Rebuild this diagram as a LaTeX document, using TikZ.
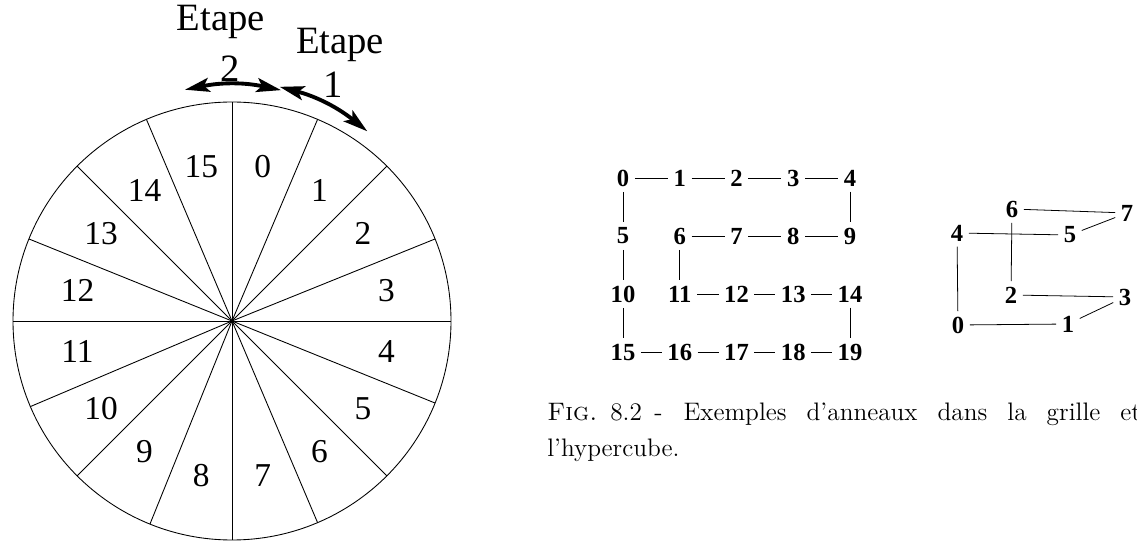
\documentclass[tikz,border=0pt]{standalone}
\usepackage{fontspec}
\newfontfamily\timesfont{Liberation Serif}
\usetikzlibrary{arrows.meta}

\begin{document}
\begin{tikzpicture}[
	roue/.style={ circle, draw, line width=0.5pt, inner sep=0pt, outer sep=0pt, minimum size=8.76cm },
	secteur/.style={ font=\timesfont\fontsize{19}{20}\selectfont, inner sep=0pt },
	etape/.style={ font=\timesfont\fontsize{22}{22}\selectfont, inner sep=0pt },
	fleche/.style={ line width=2.2pt, {Stealth[length=14pt, width=8pt, inset=3pt]}-{Stealth[length=14pt, width=8pt, inset=3pt]} },
	sommet/.style={ font=\timesfont\bfseries\fontsize{14}{14}\selectfont, inner sep=3pt },
	lien/.style={ line width=0.45pt }
]
\useasboundingbox (0,0) rectangle (22.74,10.82);

% l'anneau
\node at (4.64,4.40) (roue) [roue] {};
\foreach \k in {0,...,15}
  \draw[line width=0.5pt] (roue.center) -- (roue.{90-22.5*\k});
\foreach \k in {0,...,15}
  \node at ([shift={({78.75-22.5*\k}:3.15)}]roue.center) (s\k) [secteur] {\k};

% les etapes
\coordinate (e2a) at ([shift={(101.5:4.72)}]roue.center);
\coordinate (e2b) at ([shift={(78:4.72)}]roue.center);
\coordinate (e1a) at ([shift={(78.5:4.78)}]roue.center);
\coordinate (e1b) at ([shift={(54.5:4.66)}]roue.center);
\draw[fleche] (e2a) to[bend left=11.75] (e2b);
\draw[fleche] (e1a) to[bend left=12] (e1b);
\node at (4.42,10.38) (etape2) [etape] {Etape};
\node at (4.60,9.44) (num2) [etape] {2};
\node at (6.80,9.92) (etape1) [etape] {Etape};
\node at (6.66,9.12) (num1) [etape] {1};

% la grille
\foreach \n in {0,...,19}{
  \pgfmathtruncatemacro{\col}{mod(\n,5)}
  \pgfmathtruncatemacro{\row}{\n/5}
  \node at ({12.46+1.135*\col},{7.26-1.16*\row}) (g\n) [sommet] {\n};
}
\foreach \a/\b in {0/1,1/2,2/3,3/4,6/7,7/8,8/9,11/12,12/13,13/14,15/16,16/17,17/18,18/19,0/5,4/9,5/10,6/11,10/15,14/19}
  \draw[lien] (g\a) -- (g\b);

% l'hypercube
\node at (19.16,4.32) (h0) [sommet] {0};
\node at (21.36,4.34) (h1) [sommet] {1};
\node at (20.22,4.92) (h2) [sommet] {2};
\node at (22.50,4.88) (h3) [sommet] {3};
\node at (19.14,6.16) (h4) [sommet] {4};
\node at (21.40,6.12) (h5) [sommet] {5};
\node at (20.24,6.64) (h6) [sommet] {6};
\node at (22.54,6.56) (h7) [sommet] {7};
\foreach \a/\b in {0/1,2/3,4/5,6/7,0/4,2/6,1/3,5/7}
  \draw[lien] (h\a) -- (h\b);

% legende
\node at (10.94,1.70) (legende) [anchor=base west, inner sep=0pt, align=left, font=\fontsize{14.4}{20}\selectfont]
  {\textsc{Fig.}\kern7.4pt 8.2\kern7pt-\kern12pt\makebox[9.15cm][s]{Exemples d'anneaux dans la grille et}\\ l'hypercube.};

\end{tikzpicture}
\end{document}
